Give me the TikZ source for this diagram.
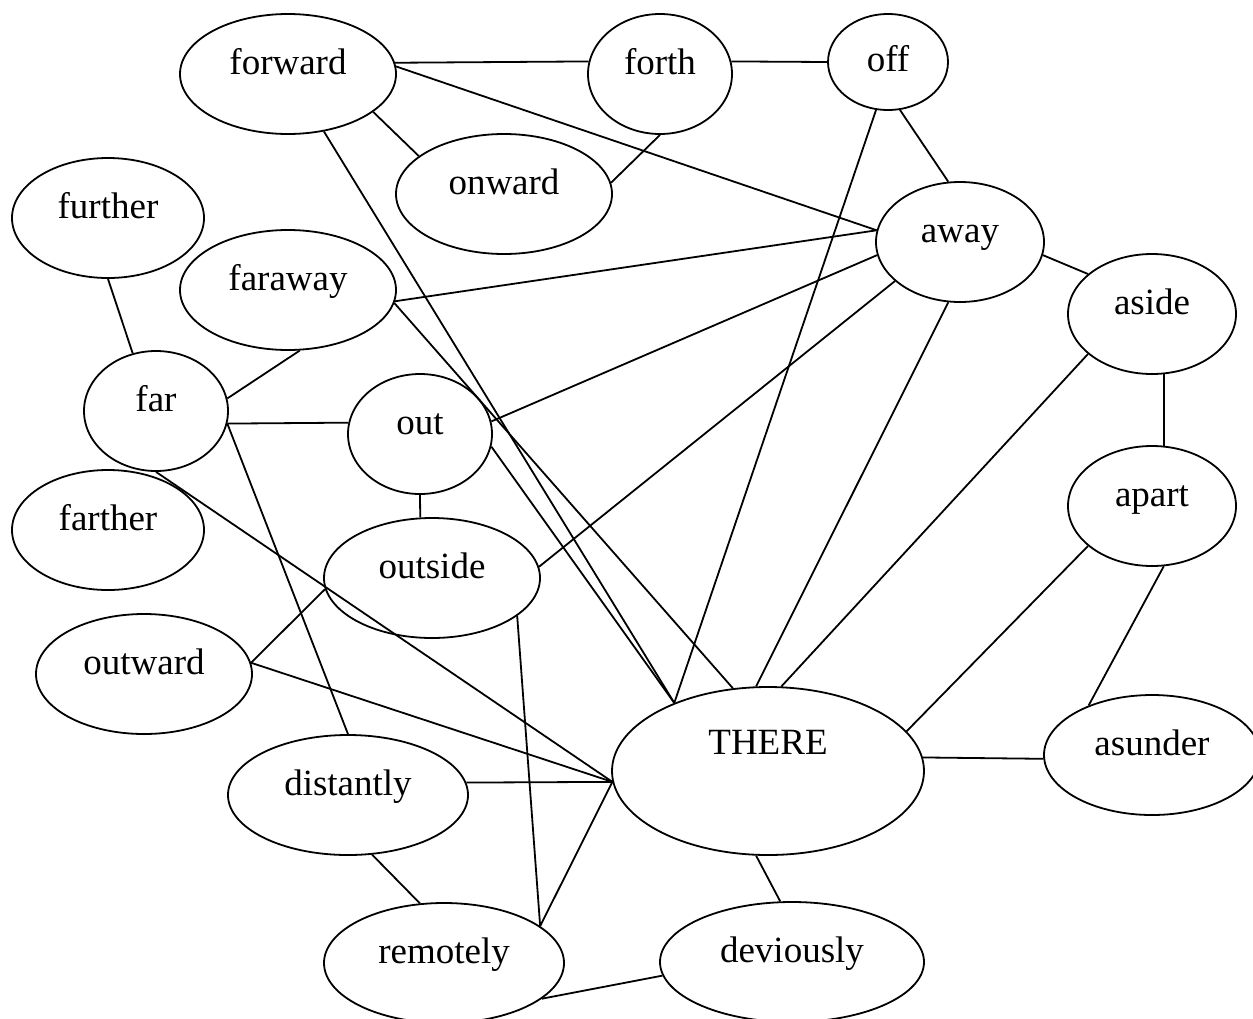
\documentclass[tikz,border=0pt]{standalone}
\usepackage{fontspec}
\setmainfont{Liberation Serif}
\usetikzlibrary{shapes.geometric}

\begin{document}
\begin{tikzpicture}[x=1pt,y=-1pt,
  word/.style={draw, ellipse, line width=1.8pt, inner sep=0pt, minimum height=120pt,
    text height=13pt, text depth=13pt, font=\fontsize{37pt}{44pt}\selectfont},
  link/.style={line width=1.8pt}]
\clip (0,0) rectangle (1253,1018);

\node [word, minimum width=216pt] (forward) at (288,74) {forward};
\node [word, minimum width=144pt] (forth) at (660,74) {forth};
\node [word, minimum width=120pt, minimum height=96pt, text height=22pt, text depth=4pt] (off) at (888,62) {off};
\node [word, minimum width=216pt] (onward) at (504,194) {onward};
\node [word, minimum width=192pt] (further) at (108,218) {further};
\node [word, minimum width=168pt] (away) at (960,242) {away};
\node [word, minimum width=216pt] (faraway) at (288,290) {faraway};
\node [word, minimum width=168pt] (aside) at (1152,314) {aside};
\node [word, minimum width=144pt] (far) at (156,411) {far};
\node [word, minimum width=144pt] (out) at (420,434) {out};
\node [word, minimum width=168pt] (apart) at (1152,506) {apart};
\node [word, minimum width=192pt] (farther) at (108,530) {farther};
\node [word, minimum width=216pt] (outside) at (432,578) {outside};
\node [word, minimum width=216pt] (outward) at (144,674) {outward};
\node [word, minimum width=216pt] (asunder) at (1152,755) {asunder};
\node [word, minimum width=312pt, minimum height=168pt, text depth=47pt] (THERE) at (768,771) {THERE};
\node [word, minimum width=240pt] (distantly) at (348,795) {distantly};
\node [word, minimum width=240pt] (remotely) at (444,963) {remotely};
\node [word, minimum width=264pt] (deviously) at (792,962) {deviously};

\draw [link] (forward.6) -- (forth.170);
\draw [link] (forward.4) -- (away.172);
\draw [link] (forward.-24) -- (onward.156);
\draw [link] (forward.-58) -- (THERE.144);
\draw [link] (forth.10) -- (off.180);
\draw [link] (forth.south) -- (onward.6);
\draw [link] (off.-76) -- (away.101);
\draw [link] (off.256) -- (THERE.144);
\draw [link] (away.-9) -- (aside.148);
\draw [link] (faraway.-6) -- (away.172);
\draw [link] (out.10) -- (away.189);
\draw [link] (outside.6) -- (away.211);
\draw [link] (away.259) -- (THERE.98);
\draw [link] (aside.212) -- (THERE.81);
\draw [link] (aside.281) -- (apart.79);
\draw [link] (apart.212) -- (THERE.16);
\draw [link] (apart.281) -- (asunder.142);
\draw [link] (THERE.5) -- (asunder.182);
\draw [link] (THERE.262) -- (deviously.101);
\draw [link] (deviously.186) -- (remotely.-20);
\draw [link] (remotely.21) -- (THERE.184);
\draw [link] (outside.-24) -- (remotely.21);
\draw [link] (distantly.6) -- (THERE.184);
\draw [link] (distantly.-68) -- (remotely.112);
\draw [link] (far.-10) -- (distantly.north);
\draw [link] (far.-10) -- (out.171);
\draw [link] (far.10) -- (faraway.-79);
\draw [link] (far.112) -- (further.south);
\draw [link] (far.south) -- (THERE.184);
\draw [link] (outward.6) -- (outside.186);
\draw [link] (out.south) -- (outside.101);
\draw [link] (out.-10) -- (THERE.144);
\draw [link] (faraway.-7) -- (THERE.113);
\draw [link] (outward.6) -- (THERE.184);

\end{tikzpicture}
\end{document}
